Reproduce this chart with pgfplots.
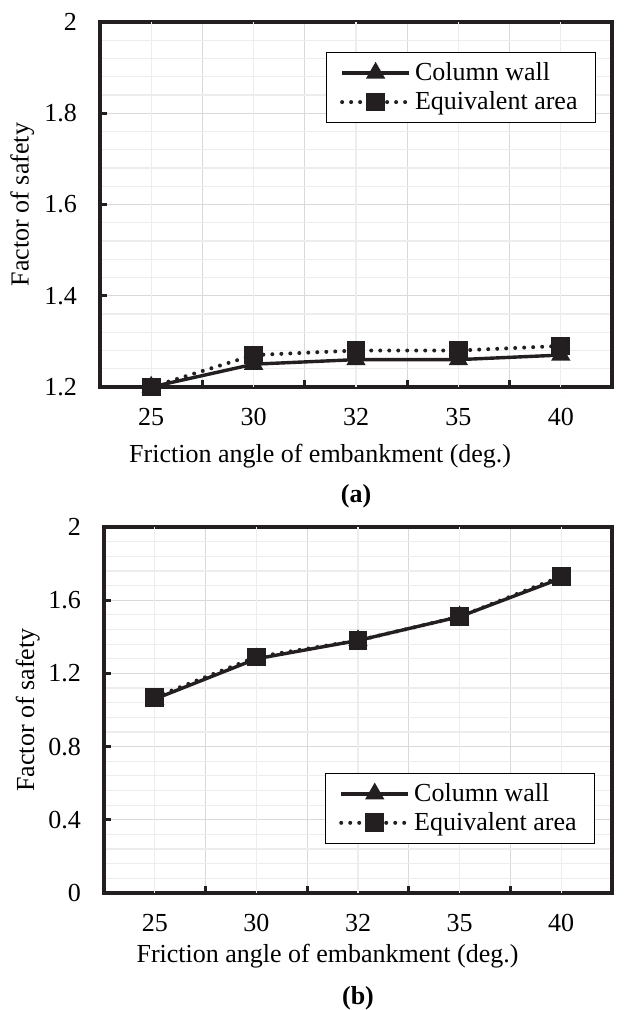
\documentclass[border=0pt]{standalone}
\usepackage{fontspec}
\setmainfont{Liberation Serif}
\usepackage{pgfplots}
\pgfplotsset{compat=1.18}
\definecolor{ink}{HTML}{231F20}
\definecolor{gmaj}{HTML}{D9D9D9}
\definecolor{gmin}{HTML}{EDEDED}

\newcommand{\fs}{\fontsize{13}{15.5}\selectfont}

\pgfplotsset{
  fsbase/.style={
    scale only axis, clip=false,
    /pgf/number format/assume math mode=true,
    xmin=-0.5, xmax=4.5,
    xtick={0.5,1.5,2.5,3.5}, xticklabels={},
    extra x ticks={0,1,2,3,4},
    extra x tick labels={25,30,32,35,40},
    extra x tick style={grid=major, major grid style={gmin, line width=0.6pt}, major tick length=0pt},
    grid=both,
    major grid style={gmaj, line width=0.6pt},
    minor grid style={gmin, line width=0.6pt},
    minor y tick num=4,
    tick align=inside, tick pos=left,
    major tick length=3.5pt, minor tick length=0pt,
    tick style={ink, line width=1.5pt},
    axis line style={ink, line width=1.6pt, line join=miter},
    tick label style={font=\fs, text=black},
    xticklabel style={yshift=-7pt},
    yticklabel style={xshift=-8pt},
    label style={font=\fs},
    ylabel={Factor of safety},
    xlabel={Friction angle of embankment (deg.)},
    legend cell align=left,
    legend image code/.code={
      \draw[mark repeat=2, mark phase=2, ##1] plot coordinates {(0pt,0pt) (16.75pt,0pt) (33.5pt,0pt)};
    },
    legend style={font=\fs, draw=black, line width=0.6pt, inner xsep=7pt, inner ysep=3pt,
      nodes={inner sep=2pt}, row sep=0pt},
  },
  cw/.style={ink, line width=1.7pt, solid, mark=triangle*, mark size=4.6pt, mark options={solid, fill=ink, line width=1pt}},
  ea/.style={ink, line width=2pt, line cap=round, dash pattern=on 0pt off 4.5pt, mark=square*, mark size=4.2pt, mark options={solid, fill=ink, line width=1pt}},
}

\begin{document}
\begin{tikzpicture}
\path[use as bounding box] (0,0) rectangle (317pt,-505pt);

% ---------------- (a)
\begin{axis}[fsbase,
  at={(50pt,-193.5pt)}, anchor=south west,
  width=256pt, height=182.5pt,
  ymin=1.2, ymax=2, ytick={1.2,1.4,1.6,1.8,2},
  ylabel style={at={(axis description cs:-0.152,0.5)}, anchor=center},
  xlabel style={at={(axis description cs:0.43,-0.19)}, anchor=center},
  legend style={at={(axis description cs:0.969,0.918)}, anchor=north east},
]
\addplot[cw] coordinates {(0,1.20) (1,1.25) (2,1.26) (3,1.26) (4,1.27)};
\addlegendentry{Column wall}
\addplot[ea] coordinates {(0,1.20) (1,1.27) (2,1.28) (3,1.28) (4,1.29)};
\addlegendentry{Equivalent area}
\node[font=\fs\bfseries] at (axis description cs:0.5,-0.30) {(a)};
\end{axis}

% ---------------- (b)
\begin{axis}[fsbase,
  at={(52pt,-446.5pt)}, anchor=south west,
  width=254pt, height=183pt,
  ymin=0, ymax=2, ytick={0,0.4,0.8,1.2,1.6,2},
  ylabel style={at={(axis description cs:-0.15,0.5)}, anchor=center},
  xlabel style={at={(axis description cs:0.44,-0.172)}, anchor=center},
  legend style={at={(axis description cs:0.967,0.134)}, anchor=south east},
]
\addplot[cw] coordinates {(0,1.06) (1,1.28) (2,1.38) (3,1.51) (4,1.72)};
\addlegendentry{Column wall}
\addplot[ea] coordinates {(0,1.07) (1,1.29) (2,1.38) (3,1.51) (4,1.73)};
\addlegendentry{Equivalent area}
\node[font=\fs\bfseries] at (axis description cs:0.5,-0.288) {(b)};
\end{axis}
\end{tikzpicture}
\end{document}
